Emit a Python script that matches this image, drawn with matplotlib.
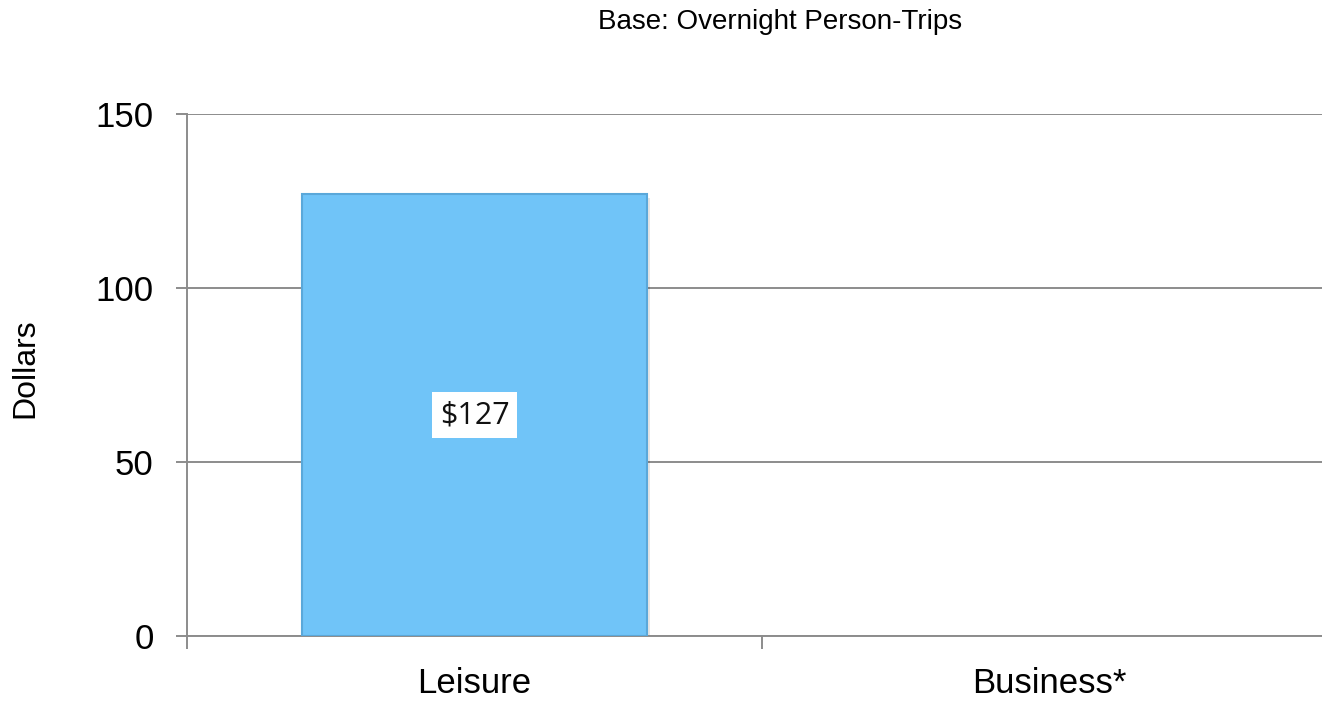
import matplotlib
matplotlib.use("Agg")
import matplotlib.pyplot as plt
from matplotlib import font_manager

# Average spending per person per trip, by trip purpose
categories = ["Leisure", "Business*"]
values = [127, None]
value_labels = ["$127", ""]
y_ticks = [0, 50, 100, 150]

bar_color = "#70C4F8"
bar_edge = "#5AA8DA"
grid_color = "#8C8C8C"

available = {f.name for f in font_manager.fontManager.ttflist}
label_font = "Open Sans" if "Open Sans" in available else "DejaVu Sans"

plt.rcParams["font.family"] = ["Liberation Sans", "DejaVu Sans"]

fig = plt.figure(figsize=(13.22, 7.07), dpi=100)
ax = fig.add_axes([187 / 1322, 1 - 636 / 707, (1337 - 187) / 1322, (636 - 114) / 707])

xs = list(range(len(categories)))
for x, v, lab in zip(xs, values, value_labels):
    if v is None:
        continue
    # soft drop shadow behind the bar
    ax.bar(x + 0.006, v, width=0.60, bottom=-1.0, color="#000000", alpha=0.10,
           zorder=2, linewidth=0)
    ax.bar(x, v, width=0.60, color=bar_color, edgecolor=bar_edge, linewidth=1.5,
           zorder=3)
    ax.text(x, v / 2, lab, ha="center", va="center", fontsize=22,
            family=[label_font, "DejaVu Sans"], color="#111111", zorder=5,
            bbox=dict(boxstyle="square,pad=0.25", facecolor="white", edgecolor="none"))

ax.set_xlim(-0.5, len(categories) - 0.5)
ax.set_ylim(0, 150)
ax.set_yticks(y_ticks)
ax.set_yticklabels([str(t) for t in y_ticks])
ax.yaxis.grid(True, color=grid_color, linewidth=1.4, zorder=0)
ax.set_axisbelow(True)

# category labels at centres, tick marks at category boundaries
ax.set_xticks(xs)
ax.set_xticklabels(categories, fontsize=25)
ax.tick_params(axis="x", which="major", length=0, pad=22)
ax.set_xticks([i - 0.5 for i in range(len(categories) + 1)], minor=True)
ax.tick_params(axis="x", which="minor", length=9.5, width=1.4, color=grid_color)
ax.tick_params(axis="y", length=8, width=1.4, color=grid_color, labelsize=25, pad=16)

for side in ["top", "right"]:
    ax.spines[side].set_visible(False)
ax.spines["left"].set_color(grid_color)
ax.spines["left"].set_linewidth(1.4)
ax.spines["bottom"].set_color(grid_color)
ax.spines["bottom"].set_linewidth(1.4)

fig.text(25 / 1322, 1 - 368 / 707, "Dollars", rotation=90, ha="center", va="center",
         fontsize=23)
fig.text(780 / 1322, 1 - 22 / 707, "Base: Overnight Person-Trips", ha="center",
         va="center", fontsize=20)

fig.savefig("out.png", dpi=100)
